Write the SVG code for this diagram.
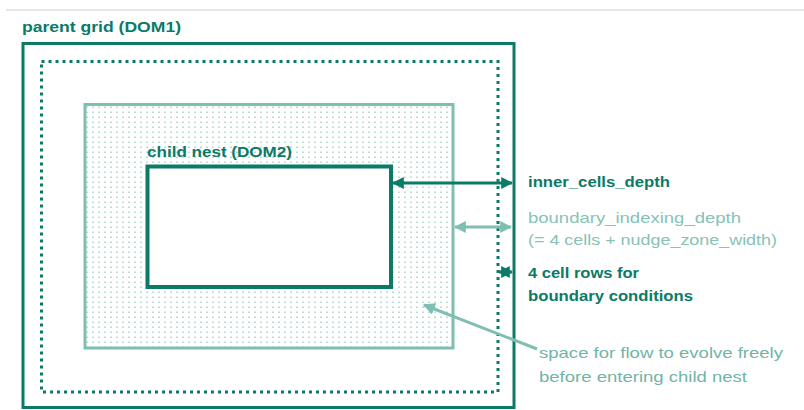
<svg xmlns="http://www.w3.org/2000/svg" width="804" height="410" viewBox="0 0 804 410">
<defs>
<style>
.dk{fill:#0b7a66;font-family:"Liberation Sans",Arial,sans-serif;font-weight:bold;font-size:15px}
.lt{fill:#86c3b6;font-family:"Liberation Sans",Arial,sans-serif;font-size:15px}
.ltt{fill:#6fb5a6;font-family:"Liberation Sans",Arial,sans-serif;font-size:15px}
</style>
<pattern id="dots" width="6" height="5" patternUnits="userSpaceOnUse">
<rect x="2" y="1.5" width="2" height="1.5" fill="#b9ddd5"/>
</pattern>
<marker id="ad" viewBox="0 0 10 10" refX="9" refY="5" markerWidth="4" markerHeight="4" orient="auto-start-reverse">
<path d="M0,0 L10,5 L0,10 z" fill="#0b7a66"/>
</marker>
<marker id="al" viewBox="0 0 10 10" refX="9" refY="5" markerWidth="4" markerHeight="4" orient="auto-start-reverse">
<path d="M0,0 L10,5 L0,10 z" fill="#7fbfb1"/>
</marker>
</defs>
<line x1="6" y1="10" x2="804" y2="10" stroke="#e6e6e6" stroke-width="2"/>
<g id="parent">
<rect x="23" y="43.5" width="491" height="364" fill="none" stroke="#0b7a66" stroke-width="3"/>
<text class="dk" x="22" y="32" textLength="159" lengthAdjust="spacingAndGlyphs">parent grid (DOM1)</text>
</g>
<g id="boundary">
<rect x="41.5" y="61.5" width="456.5" height="330.5" fill="none" stroke="#0b7a66" stroke-width="3" stroke-dasharray="3 4"/>
</g>
<g id="indexing">
<rect x="85" y="104.5" width="368" height="243.5" fill="url(#dots)" stroke="#7fbfb1" stroke-width="3"/>
</g>
<g id="child">
<rect x="147.5" y="166.5" width="243.5" height="120.5" fill="#fff" stroke="#0b7a66" stroke-width="4"/>
<text class="dk" x="147" y="157" textLength="145" lengthAdjust="spacingAndGlyphs">child nest (DOM2)</text>
</g>
<g id="connectors">
<line x1="393" y1="183" x2="512" y2="183" stroke="#0b7a66" stroke-width="3" marker-start="url(#ad)" marker-end="url(#ad)"/>
<line x1="455" y1="227" x2="511" y2="227" stroke="#7fbfb1" stroke-width="3" marker-start="url(#al)" marker-end="url(#al)"/>
<line x1="499" y1="272" x2="512" y2="272" stroke="#0b7a66" stroke-width="3" marker-start="url(#ad)" marker-end="url(#ad)"/>
<line x1="537" y1="349" x2="424" y2="305" stroke="#7fbfb1" stroke-width="3" marker-end="url(#al)"/>
</g>
<g id="labels">
<text class="dk" x="528" y="187" textLength="142" lengthAdjust="spacingAndGlyphs">inner_cells_depth</text>
<text class="lt" x="528" y="223" textLength="213" lengthAdjust="spacingAndGlyphs">boundary_indexing_depth</text>
<text class="lt" x="528" y="245" textLength="249" lengthAdjust="spacingAndGlyphs">(= 4 cells + nudge_zone_width)</text>
<text class="dk" x="528" y="278" textLength="111" lengthAdjust="spacingAndGlyphs">4 cell rows for</text>
<text class="dk" x="528" y="301" textLength="165" lengthAdjust="spacingAndGlyphs">boundary conditions</text>
<text class="ltt" x="539" y="358" textLength="244" lengthAdjust="spacingAndGlyphs">space for flow to evolve freely</text>
<text class="ltt" x="539" y="382" textLength="208" lengthAdjust="spacingAndGlyphs">before entering child nest</text>
</g>
</svg>
